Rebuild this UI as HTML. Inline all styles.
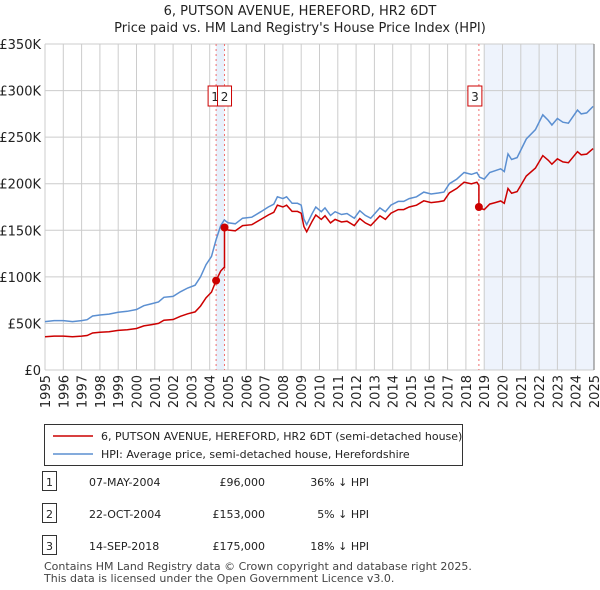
<!DOCTYPE html>
<html><head><meta charset="utf-8"><style>
body{margin:0;background:#fff;font-family:"Liberation Sans","DejaVu Sans",sans-serif;}
#wrap{position:relative;width:600px;height:590px;overflow:hidden}
svg text{font-family:"DejaVu Sans","Liberation Sans",sans-serif}
</style></head><body>
<div id="wrap">
<svg id="c" width="600" height="590"></svg>
</div>
<script>
const hpiYears=[1995.0,1995.5,1996.0,1996.5,1997.0,1997.3,1997.6,1998.0,1998.5,1999.0,1999.5,2000.0,2000.4,2000.8,2001.2,2001.5,2002.0,2002.4,2002.8,2003.2,2003.5,2003.8,2004.1,2004.35,2004.6,2004.8,2005.0,2005.4,2005.8,2006.3,2006.8,2007.2,2007.5,2007.7,2008.0,2008.2,2008.5,2008.8,2009.0,2009.15,2009.3,2009.6,2009.8,2010.1,2010.3,2010.6,2010.85,2011.2,2011.5,2011.9,2012.2,2012.5,2012.8,2013.3,2013.6,2013.9,2014.3,2014.6,2014.9,2015.3,2015.7,2016.1,2016.5,2016.8,2017.1,2017.5,2017.9,2018.3,2018.6,2018.75,2019.0,2019.3,2019.6,2019.9,2020.1,2020.3,2020.5,2020.8,2021.3,2021.8,2022.2,2022.5,2022.7,2023.0,2023.3,2023.6,2024.1,2024.3,2024.6,2024.95];
const hpiValues=[52,53,53,52,53,54,58,59,60,62,63,65,69,71,73,78,79,84,88,91,100,113,122,140,155,161,158,157,163,164,170,175,178,186,184,186,179,179,177,162,156,168,175,170,174,166,170,167,168,163,171,166,163,174,170,177,181,181,184,186,191,189,190,191,200,205,212,210,212,207,205,212,214,216,213,232,226,228,248,258,274,268,263,270,266,265,279,275,276,283];
const saleYears=[2004.35,2004.81,2018.71];
const salePrices=[96,153,175];
const saleLabels=["1","2","3"];
const saleDates=["07-MAY-2004","22-OCT-2004","14-SEP-2018"];
const salePriceText=["£96,000","£153,000","£175,000"];
const saleHpiText=["36% ↓ HPI","5% ↓ HPI","18% ↓ HPI"];
const yTicks=[0,50,100,150,200,250,300,350];
const yTickLabels=["£0","£50K","£100K","£150K","£200K","£250K","£300K","£350K"];
const xTicks=[1995,1996,1997,1998,1999,2000,2001,2002,2003,2004,2005,2006,2007,2008,2009,2010,2011,2012,2013,2014,2015,2016,2017,2018,2019,2020,2021,2022,2023,2024,2025];

const L=45,R=594,T=44,B=370;
const X=y=>L+(y-1995)/30*(R-L);
const Y=v=>B-v/350*(B-T);
const NS="http://www.w3.org/2000/svg";
const svg=document.getElementById('c');
function mk(tag,at,txt){const e=document.createElementNS(NS,tag);for(const k in at)e.setAttribute(k,at[k]);if(txt!==undefined)e.textContent=txt;svg.appendChild(e);return e;}
function hpiAt(t){for(let i=1;i<hpiYears.length;i++){if(t<=hpiYears[i]){const f=(t-hpiYears[i-1])/(hpiYears[i]-hpiYears[i-1]);return hpiValues[i-1]+f*(hpiValues[i]-hpiValues[i-1]);}}return hpiValues[hpiValues.length-1];}

let e=mk('text',{x:300,y:15,'text-anchor':'middle','font-size':13,fill:'#222'},'6, PUTSON AVENUE, HEREFORD, HR2 6DT');


e=mk('text',{x:300,y:32,'text-anchor':'middle','font-size':13,fill:'#222'},"Price paid vs. HM Land Registry's House Price Index (HPI)");



e=mk('rect',{x:X(saleYears[0]),y:T,width:X(saleYears[1])-X(saleYears[0]),height:B-T,fill:'#e8f0fb'});


e=mk('rect',{x:X(2019),y:T,width:R-X(2019),height:B-T,fill:'#eef3fc'});



yTicks.forEach((v,i)=>{
 const g=mk('line',{x1:L,x2:R,y1:Y(v),y2:Y(v),stroke:'#cccccc','stroke-width':1});
 
 
 const t=mk('text',{x:L-4,y:Y(v)+5,'text-anchor':'end','font-size':13,fill:'#222'},yTickLabels[i]);
 
 
});
xTicks.forEach(yr=>{
 const g=mk('line',{x1:X(yr),x2:X(yr),y1:T,y2:B,stroke:'#cccccc','stroke-width':1});
 
 
 const tx=X(yr)+5, ty=375;
 const t=mk('text',{x:tx,y:ty,'text-anchor':'end','font-size':13,fill:'#222',transform:'rotate(-90 '+tx+' '+ty+')'},String(yr));
 
 
});
e=mk('line',{x1:R,x2:R,y1:T,y2:B,stroke:'#888','stroke-width':1.2});



saleYears.forEach((sy,i)=>{
 const l=mk('line',{x1:X(sy),x2:X(sy),y1:T,y2:B,stroke:'#f07070','stroke-width':1,'stroke-dasharray':'2,3'});
 
 
});

let d=hpiYears.map((yr,i)=>(i?'L':'M')+X(yr).toFixed(1)+','+Y(hpiValues[i]).toFixed(1)).join('');
e=mk('path',{d:d,fill:'none',stroke:'#5b8fd1','stroke-width':1.5});



function factorFor(idx){return salePrices[idx]/hpiAt(saleYears[idx]);}
let pts=[];
const allT=hpiYears.concat(saleYears).sort((a,b)=>a-b);
allT.forEach(t=>{
 let idx=0;for(let k=0;k<saleYears.length;k++)if(t>=saleYears[k])idx=k;
 if(saleYears.includes(t)){const k=saleYears.indexOf(t);if(k>0)pts.push([t,hpiAt(t)*factorFor(k-1)]);}
 pts.push([t,hpiAt(t)*factorFor(idx)]);
});
d=pts.map((p,i)=>(i?'L':'M')+X(p[0]).toFixed(1)+','+Y(p[1]).toFixed(1)).join('');
e=mk('path',{d:d,fill:'none',stroke:'#cc0000','stroke-width':1.5});



saleYears.forEach((sy,i)=>{
 const c=mk('circle',{cx:X(sy),cy:Y(salePrices[i]),r:4,fill:'#cc0000'});
 
 
});
const boxX=[X(saleYears[0])-8,X(saleYears[1])-7,X(saleYears[2])-11];
saleYears.forEach((sy,i)=>{
 const r=mk('rect',{x:boxX[i],y:86,width:14,height:20,fill:'#fff',stroke:'#cc0000','stroke-width':1});
 
 
 const t=mk('text',{x:boxX[i]+7,y:101,'text-anchor':'middle','font-size':12,fill:'#222'},saleLabels[i]);
 
 
});

e=mk('rect',{x:44.5,y:424.5,width:418,height:41,fill:'#fff',stroke:'#333','stroke-width':1});


e=mk('line',{x1:53,x2:93,y1:436,y2:436,stroke:'#cc0000','stroke-width':1.5});


e=mk('text',{x:101,y:440,'font-size':11,fill:'#222'},'6, PUTSON AVENUE, HEREFORD, HR2 6DT (semi-detached house)');


e=mk('line',{x1:53,x2:93,y1:454,y2:454,stroke:'#5b8fd1','stroke-width':1.5});


e=mk('text',{x:101,y:458,'font-size':11,fill:'#222'},'HPI: Average price, semi-detached house, Herefordshire');



const rowY=[482,514,546];
saleYears.forEach((sy,i)=>{
 const r=mk('rect',{x:42.5,y:rowY[i]-10.5,width:14,height:19,fill:'#fff',stroke:'#333','stroke-width':1});
 
 
 let t=mk('text',{x:49.5,y:rowY[i]+4,'text-anchor':'middle','font-size':11,fill:'#222'},saleLabels[i]);
 
 
 t=mk('text',{x:89,y:rowY[i]+4,'font-size':11,fill:'#222'},saleDates[i]);
 
 
 t=mk('text',{x:265,y:rowY[i]+4,'text-anchor':'end','font-size':11,fill:'#222'},salePriceText[i]);
 
 
 t=mk('text',{x:369,y:rowY[i]+4,'text-anchor':'end','font-size':11,fill:'#222'},saleHpiText[i]);
 
 
});
e=mk('text',{x:44,y:570,'font-size':11,fill:'#444'},'Contains HM Land Registry data © Crown copyright and database right 2025.');


e=mk('text',{x:44,y:582,'font-size':11,fill:'#444'},'This data is licensed under the Open Government Licence v3.0.');


</script>
</body></html>
